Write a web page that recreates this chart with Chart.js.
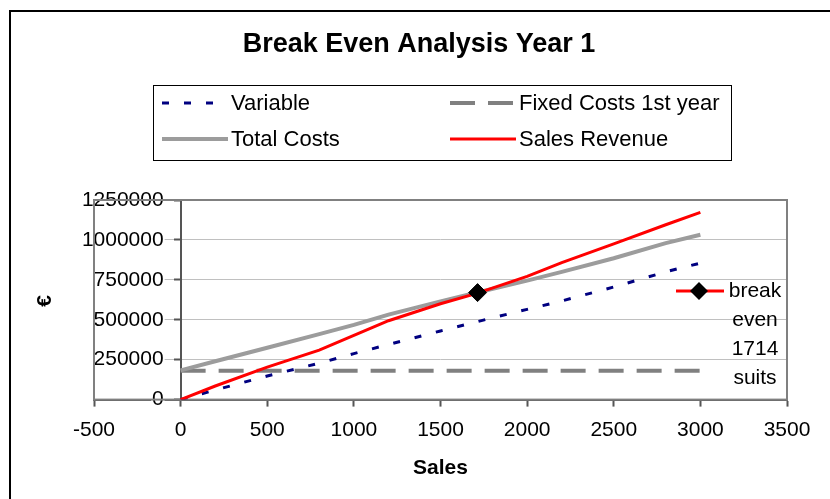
<!DOCTYPE html>
<html>
<head>
<meta charset="utf-8">
<title>Break Even Analysis Year 1</title>
<script src="https://cdn.jsdelivr.net/npm/chart.js@4.4.0/dist/chart.umd.min.js"></script>
<style>
  html, body { margin: 0; padding: 0; background: #fff; }
  #wrap { width: 830px; height: 499px; }
</style>
</head>
<body>
<div id="wrap"><canvas id="breakEvenChart" width="830" height="499"></canvas></div>
<script>
// units sold (x values shared by the cost / revenue lines)
const sales = [0, 200, 500, 800, 1000, 1200, 1500, 1700, 2000, 2200, 2500, 2800, 3000];
const variableCosts = [0, 60000, 148000, 228000, 288000, 345000, 430000, 485000, 565000, 618000, 705000, 800000, 855000];
const fixedCosts = [180000, 180000, 180000, 180000, 180000, 180000, 180000, 180000, 180000, 180000, 180000, 180000, 180000];
const totalCosts = [183000, 240000, 325000, 410000, 468000, 532000, 615000, 668000, 745000, 800000, 885000, 980000, 1032000];
const salesRevenue = [0, 85000, 203000, 310000, 402000, 494000, 600000, 662000, 772000, 858000, 975000, 1095000, 1173000];

const breakEvenUnits = [1714];
const breakEvenValue = [670000];

const seriesNames = ['Variable', 'Fixed Costs 1st year', 'Total Costs', 'Sales Revenue', 'break even 1714 suits'];
const xTickRange = [-500, 3500, 500];
const yTickRange = [0, 1250000, 250000];

const FONT = 'Arial, "Liberation Sans", sans-serif';
Chart.defaults.font.family = FONT;
Chart.defaults.color = '#000';

const toPoints = (xs, ys) => xs.map((x, i) => ({ x: x, y: ys[i] }));

// frame, title, legend box and the little break even legend
const decorations = {
  id: 'decorations',
  beforeDraw(chart) {
    const ctx = chart.ctx;
    ctx.save();
    ctx.fillStyle = '#fff';
    ctx.fillRect(0, 0, chart.width, chart.height);
    ctx.strokeStyle = '#000';
    ctx.lineWidth = 2;
    ctx.beginPath();
    ctx.moveTo(10, chart.height);
    ctx.lineTo(10, 11);
    ctx.lineTo(chart.width, 11);
    ctx.stroke();
    ctx.restore();
  },
  beforeDatasetsDraw(chart) {
    const { ctx, chartArea } = chart;
    ctx.save();
    ctx.strokeStyle = '#808080';
    ctx.lineWidth = 2;
    ctx.strokeRect(chartArea.left, chartArea.top, chartArea.right - chartArea.left, chartArea.bottom - chartArea.top);
    ctx.restore();
  },
  afterDraw(chart) {
    const ctx = chart.ctx;
    const ds = chart.data.datasets;
    ctx.save();

    // title
    ctx.fillStyle = '#000';
    ctx.font = 'bold 27px ' + FONT;
    ctx.textAlign = 'center';
    ctx.textBaseline = 'alphabetic';
    ctx.fillText('Break Even Analysis Year 1', 419, 52);

    // y axis title
    ctx.save();
    ctx.translate(45, 301);
    ctx.rotate(-Math.PI / 2);
    ctx.font = 'bold 21px ' + FONT;
    ctx.textBaseline = 'middle';
    ctx.fillText('€', 0, 0);
    ctx.restore();

    // legend box
    ctx.strokeStyle = '#000';
    ctx.lineWidth = 1;
    ctx.strokeRect(153.5, 85.5, 578, 75);
    const slots = [[162, 103], [450, 103], [162, 139], [450, 139]];
    ctx.font = '22px ' + FONT;
    ctx.textAlign = 'left';
    ctx.textBaseline = 'middle';
    slots.forEach(([x, y], i) => {
      const d = ds[i];
      ctx.setLineDash(d.borderDash || []);
      ctx.strokeStyle = d.borderColor;
      ctx.lineWidth = d.borderWidth;
      ctx.beginPath();
      ctx.moveTo(x, y);
      ctx.lineTo(x + 66, y);
      ctx.stroke();
      ctx.setLineDash([]);
      ctx.fillStyle = '#000';
      ctx.fillText(d.label, x + 69, y + 1);
    });

    // break even entry
    const be = ds[4];
    ctx.strokeStyle = be.borderColor;
    ctx.lineWidth = 3;
    ctx.beginPath();
    ctx.moveTo(676, 291);
    ctx.lineTo(724, 291);
    ctx.stroke();
    ctx.fillStyle = '#000';
    ctx.beginPath();
    ctx.moveTo(699, 282);
    ctx.lineTo(708, 291);
    ctx.lineTo(699, 300);
    ctx.lineTo(690, 291);
    ctx.closePath();
    ctx.fill();
    ctx.font = '21px ' + FONT;
    ctx.textAlign = 'center';
    ctx.textBaseline = 'alphabetic';
    const words = be.label.split(' ');
    const baselines = [297, 326, 355, 384];
    words.forEach((w, i) => ctx.fillText(w, 755, baselines[i]));

    ctx.restore();
  }
};

new Chart(document.getElementById('breakEvenChart'), {
  type: 'scatter',
  data: {
    datasets: [
      {
        label: seriesNames[0],
        data: toPoints(sales, variableCosts),
        showLine: true,
        borderColor: '#000080',
        borderWidth: 3,
        borderDash: [7, 15],
        pointRadius: 0,
        order: 5,
      },
      {
        label: seriesNames[1],
        data: toPoints(sales, fixedCosts),
        showLine: true,
        borderColor: '#808080',
        borderWidth: 4,
        borderDash: [25, 13],
        pointRadius: 0,
        order: 4,
      },
      {
        label: seriesNames[2],
        data: toPoints(sales, totalCosts),
        showLine: true,
        borderColor: '#9c9c9c',
        borderWidth: 4,
        pointRadius: 0,
        order: 3,
      },
      {
        label: seriesNames[3],
        data: toPoints(sales, salesRevenue),
        showLine: true,
        borderColor: '#ff0000',
        borderWidth: 3,
        pointRadius: 0,
        order: 2,
      },
      {
        label: seriesNames[4],
        data: toPoints(breakEvenUnits, breakEvenValue),
        showLine: false,
        borderColor: '#ff0000',
        backgroundColor: '#000',
        pointStyle: 'rectRot',
        pointRadius: 9,
        pointBorderColor: '#000',
        pointBackgroundColor: '#000',
        pointBorderWidth: 1,
        order: 1,
      },
    ],
  },
  options: {
    responsive: false,
    animation: false,
    devicePixelRatio: 1,
    events: [],
    layout: { padding: { left: 94, right: 43, top: 200, bottom: 18 } },
    plugins: {
      legend: { display: false },
      title: { display: false },
      tooltip: { enabled: false },
    },
    scales: {
      x: {
        type: 'linear',
        position: 'bottom',
        min: xTickRange[0],
        max: xTickRange[1],
        ticks: {
          stepSize: xTickRange[2],
          font: { size: 21 },
          color: '#000',
          padding: 11,
          maxRotation: 0,
          callback: (v) => String(v),
        },
        grid: {
          drawOnChartArea: false,
          tickLength: 7,
          tickColor: '#555',
          tickWidth: 2,
        },
        border: { color: '#555', width: 2 },
        title: {
          display: true,
          text: 'Sales',
          font: { size: 21, weight: 'bold' },
          color: '#000',
          padding: { top: 2, bottom: 0 },
        },
      },
      // value axis crossing at Sales = 0 (line, tick marks, gridlines)
      y: {
        type: 'linear',
        position: { x: 0 },
        min: yTickRange[0],
        max: yTickRange[1],
        afterFit: (scale) => { scale.width = 0; },
        ticks: {
          stepSize: yTickRange[2],
          display: false,
        },
        grid: {
          color: '#c0c0c0',
          lineWidth: 1,
          tickLength: 6,
          tickColor: '#555',
          tickWidth: 2,
        },
        border: { color: '#555', width: 2 },
      },
      // same value scale, only carrying the labels a little left of the axis
      yLabels: {
        type: 'linear',
        axis: 'y',
        position: { x: -98 },
        min: yTickRange[0],
        max: yTickRange[1],
        afterFit: (scale) => { scale.width = 0; },
        ticks: {
          stepSize: yTickRange[2],
          font: { size: 21 },
          color: '#000',
          padding: 0,
          showLabelBackdrop: true,
          backdropColor: '#fff',
          backdropPadding: 1,
          callback: (v) => String(v),
        },
        grid: { display: false, drawTicks: false },
        border: { display: false },
      },
    },
  },
  plugins: [decorations],
});
</script>
</body>
</html>
